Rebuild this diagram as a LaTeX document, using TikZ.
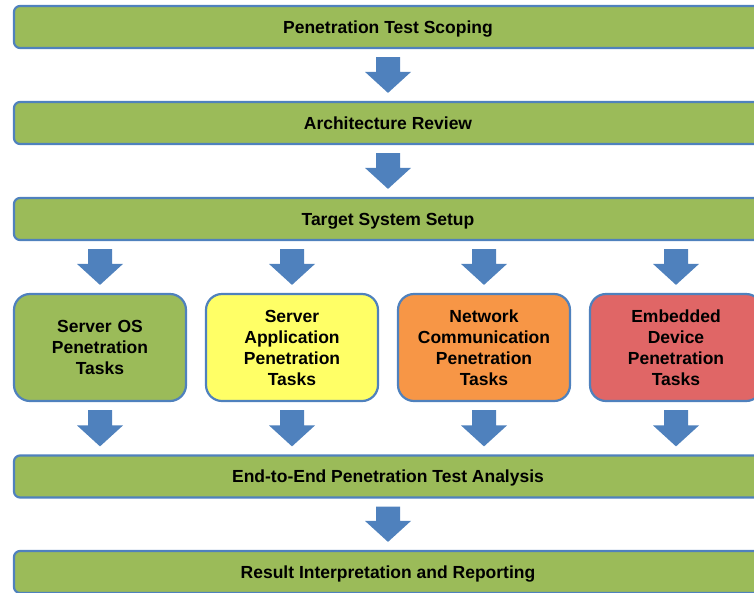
\documentclass[tikz,border=0pt]{standalone}
\usepackage{fontspec}
\setmainfont{Liberation Sans}
\usetikzlibrary{calc}
\definecolor{barGreen}{HTML}{9BBB59}
\definecolor{edgeBlue}{HTML}{4F81BD}
\definecolor{taskYellow}{HTML}{FFFF66}
\definecolor{taskOrange}{HTML}{F79646}
\definecolor{taskRed}{HTML}{E06666}
\tikzset{
	stagebar/.style={draw=edgeBlue, line width=2.2pt, fill=barGreen, rounded corners=6pt, minimum width=748pt, minimum height=42pt, inner sep=0pt, text height=12.5pt, text depth=0pt, font=\bfseries\fontsize{17.5}{21}\selectfont},
	taskbox/.style={draw=edgeBlue, line width=2.2pt, rounded corners=16pt, minimum width=172pt, minimum height=107pt, inner sep=0pt, text width=166pt, align=center, font=\bfseries\fontsize{17.5}{21}\selectfont}
}
\def\flowarrow(#1)(#2){\fill[edgeBlue] let \p1=(#1), \p2=(#2) in (\x1-12pt,\y1-8pt) -- (\x1+12pt,\y1-8pt) -- (\x1+12pt,\y2+29pt) -- (\x1+23pt,\y2+29pt) -- (\x1,\y2+8pt) -- (\x1-23pt,\y2+29pt) -- (\x1-12pt,\y2+29pt) -- cycle;}

\begin{document}
\begin{tikzpicture}[x=1pt, y=-1pt]
			%%%%% START %%%%%
			
			\useasboundingbox (0, 0) rectangle (754, 592);
			\clip (0, 0) rectangle (754, 592);
			
			\node[stagebar] (scoping) at (388, 27) {Penetration Test Scoping};
			\node[stagebar] (review) at (388, 123) {Architecture Review};
			\node[stagebar] (setup) at (388, 219) {Target System Setup};
			
			\node[taskbox, fill=barGreen] (os) at (100, 347.5) {Server OS\\Penetration\\Tasks};
			\node[taskbox, fill=taskYellow] (app) at (292, 347.5) {Server\\Application\\Penetration\\Tasks};
			\node[taskbox, fill=taskOrange] (net) at (484, 347.5) {Network\\Communication\\Penetration\\Tasks};
			\node[taskbox, fill=taskRed] (embedded) at (676, 347.5) {Embedded\\Device\\Penetration\\Tasks};
			
			\node[stagebar] (analysis) at (388, 476.5) {End-to-End Penetration Test Analysis};
			\node[stagebar] (reporting) at (388, 572) {Result Interpretation and Reporting};
			
			\flowarrow(scoping.south)(review.north);
			\flowarrow(review.south)(setup.north);
			\foreach \task in {os, app, net, embedded} {
				\flowarrow(setup.south -| \task.north)(\task.north);
				\flowarrow(\task.south)(analysis.north -| \task.south);
			}
			\flowarrow(analysis.south)(reporting.north);
			
			%%%%% END %%%%%
		\end{tikzpicture}
\end{document}
